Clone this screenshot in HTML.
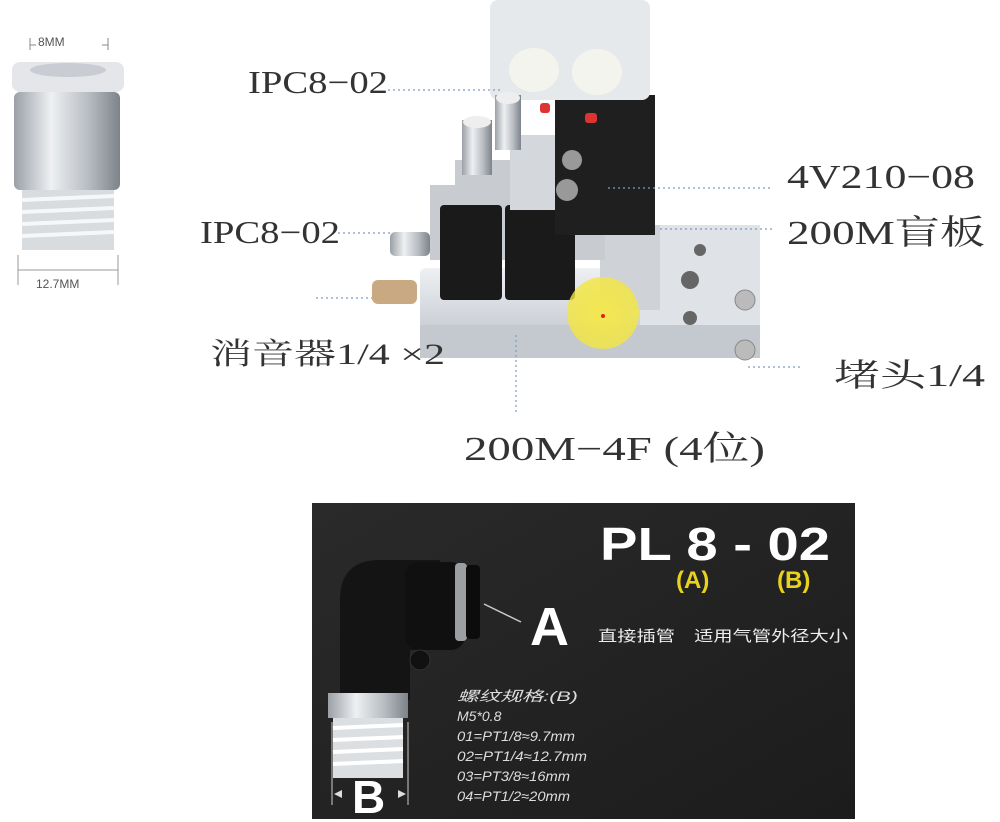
<!DOCTYPE html>
<html><head><meta charset="utf-8"><style>
html,body{margin:0;padding:0;background:#fff;}
svg{display:block}
.s{font-family:"Liberation Serif","Noto Serif CJK SC",serif;fill:#333}
.k{font-family:"Liberation Sans","Noto Sans CJK SC",sans-serif}
</style></head><body>
<svg width="1000" height="822" viewBox="0 0 1000 822" xmlns="http://www.w3.org/2000/svg">
<defs>
<linearGradient id="met" x1="0" x2="1"><stop offset="0" stop-color="#9aa0a6"/><stop offset=".35" stop-color="#eef0f2"/><stop offset=".7" stop-color="#b8bdc2"/><stop offset="1" stop-color="#7d838a"/></linearGradient>
<linearGradient id="alu" x1="0" y1="0" x2="0" y2="1"><stop offset="0" stop-color="#eef0f3"/><stop offset="1" stop-color="#b9bfc6"/></linearGradient>
<linearGradient id="bg" x1="0" y1="0" x2="1" y2="1"><stop offset="0" stop-color="#2a2a2a"/><stop offset="1" stop-color="#1c1c1c"/></linearGradient>
<radialGradient id="yl"><stop offset="0" stop-color="#f5e84a" stop-opacity=".95"/><stop offset="1" stop-color="#f3e640" stop-opacity=".8"/></radialGradient>
</defs>

<!-- top-left fitting -->
<text x="38" y="46" class="k" font-size="12" fill="#555">8MM</text>
<line x1="30" y1="38" x2="30" y2="50" stroke="#888"/><line x1="108" y1="38" x2="108" y2="50" stroke="#888"/>
<line x1="30" y1="45" x2="36" y2="45" stroke="#888"/><line x1="102" y1="45" x2="108" y2="45" stroke="#888"/>
<rect x="12" y="62" width="112" height="30" rx="8" fill="#e4e6ea"/>
<ellipse cx="68" cy="70" rx="38" ry="7" fill="#c9ccd2"/>
<rect x="14" y="92" width="106" height="98" rx="6" fill="url(#met)"/>
<rect x="22" y="190" width="92" height="60" fill="#d8dcdf"/>
<g stroke="#f6f7f8" stroke-width="4"><line x1="22" y1="200" x2="114" y2="196"/><line x1="22" y1="212" x2="114" y2="208"/><line x1="22" y1="224" x2="114" y2="220"/><line x1="22" y1="236" x2="114" y2="232"/></g>
<line x1="18" y1="255" x2="18" y2="285" stroke="#999"/><line x1="118" y1="255" x2="118" y2="285" stroke="#999"/>
<line x1="18" y1="270" x2="118" y2="270" stroke="#999"/>
<text x="36" y="288" class="k" font-size="12" fill="#555">12.7MM</text>

<!-- valve manifold -->
<rect x="420" y="268" width="340" height="90" rx="6" fill="url(#alu)"/>
<rect x="420" y="325" width="340" height="33" fill="#c4c9cf"/>
<rect x="640" y="225" width="120" height="100" fill="#dfe2e6"/>
<circle cx="700" cy="250" r="6" fill="#666"/><circle cx="690" cy="280" r="9" fill="#666"/><circle cx="690" cy="318" r="7" fill="#666"/>
<rect x="600" y="225" width="60" height="85" fill="#cfd3d8"/>
<circle cx="745" cy="300" r="10" fill="#bbb" stroke="#888"/><circle cx="745" cy="350" r="10" fill="#bbb" stroke="#888"/>
<rect x="430" y="185" width="175" height="75" fill="#c8ccd1"/>
<rect x="440" y="205" width="62" height="95" rx="4" fill="#1a1a1a"/>
<rect x="505" y="205" width="70" height="95" rx="4" fill="#1a1a1a"/>
<rect x="510" y="135" width="100" height="75" fill="#d4d8dc"/>
<rect x="555" y="95" width="100" height="140" fill="#1f1f1f"/>
<rect x="455" y="160" width="55" height="40" fill="#c8cbd0"/>
<circle cx="572" cy="160" r="10" fill="#999"/><circle cx="567" cy="190" r="11" fill="#999"/>
<rect x="490" y="0" width="160" height="100" rx="8" fill="#e6e9ec"/>
<ellipse cx="534" cy="70" rx="25" ry="22" fill="#f4f4ef"/><ellipse cx="597" cy="72" rx="25" ry="23" fill="#f4f4ef"/>
<rect x="540" y="103" width="10" height="10" rx="3" fill="#d33"/><rect x="585" y="113" width="12" height="10" rx="3" fill="#d33"/>
<rect x="462" y="120" width="30" height="55" fill="url(#met)"/><ellipse cx="477" cy="122" rx="14" ry="6" fill="#eee"/>
<rect x="495" y="95" width="26" height="55" fill="url(#met)"/><ellipse cx="508" cy="98" rx="12" ry="6" fill="#eee"/>
<rect x="390" y="232" width="40" height="24" rx="5" fill="url(#met)"/>
<rect x="372" y="280" width="45" height="24" rx="6" fill="#c8a982"/>
<circle cx="603" cy="313" r="36" fill="url(#yl)"/><circle cx="603" cy="316" r="2" fill="#d22"/>

<!-- dotted leaders -->
<g stroke="#7f9bc0" stroke-width="1.2" stroke-dasharray="2 3" fill="none">
<line x1="388" y1="90" x2="502" y2="90"/>
<line x1="338" y1="233" x2="390" y2="233"/>
<line x1="316" y1="298" x2="372" y2="298"/>
<line x1="608" y1="188" x2="772" y2="188"/>
<line x1="660" y1="229" x2="772" y2="229"/>
<line x1="748" y1="367" x2="802" y2="367"/>
<line x1="516" y1="335" x2="516" y2="415"/>
</g>

<g lengthAdjust="spacingAndGlyphs">
<text x="248" y="93" class="s" font-size="32" textLength="140" lengthAdjust="spacingAndGlyphs">IPC8−02</text>
<text x="200" y="243" class="s" font-size="32" textLength="140" lengthAdjust="spacingAndGlyphs">IPC8−02</text>
<text x="210" y="364" class="s" font-size="30" textLength="235" lengthAdjust="spacingAndGlyphs">消音器1/4 ×2</text>
<text x="787" y="188" class="s" font-size="34" textLength="188" lengthAdjust="spacingAndGlyphs">4V210−08</text>
<text x="787" y="244" class="s" font-size="34" textLength="198" lengthAdjust="spacingAndGlyphs">200M盲板</text>
<text x="834" y="386" class="s" font-size="32" textLength="151" lengthAdjust="spacingAndGlyphs">堵头1/4</text>
<text x="464" y="460" class="s" font-size="34" textLength="301" lengthAdjust="spacingAndGlyphs">200M−4F (4位)</text>
</g>

<!-- dark panel -->
<rect x="312" y="503" width="543" height="316" fill="url(#bg)"/>
<path d="M340 700 L340 600 Q340 560 380 560 L440 560 L440 650 L410 650 L410 700 Z" fill="#141414"/>
<rect x="405" y="562" width="60" height="88" rx="14" fill="#101010"/>
<rect x="455" y="563" width="12" height="78" rx="4" fill="#9c9fa2"/>
<rect x="466" y="565" width="14" height="74" rx="4" fill="#0c0c0c"/>
<circle cx="420" cy="660" r="10" fill="#111" stroke="#333"/>
<rect x="328" y="693" width="80" height="25" fill="url(#met)"/>
<rect x="333" y="718" width="70" height="60" fill="#dcdfe2"/>
<g stroke="#fff" stroke-width="4"><line x1="333" y1="728" x2="403" y2="725"/><line x1="333" y1="740" x2="403" y2="737"/><line x1="333" y1="752" x2="403" y2="749"/><line x1="333" y1="764" x2="403" y2="761"/></g>
<line x1="332" y1="722" x2="332" y2="805" stroke="#ccc"/><line x1="408" y1="722" x2="408" y2="805" stroke="#ccc"/>
<text x="352" y="813" class="k" font-size="46" font-weight="bold" fill="#fff">B</text>
<path d="M334 794 l8 -4 v8 z M406 794 l-8 -4 v8 z" fill="#ddd"/>
<line x1="484" y1="604" x2="521" y2="622" stroke="#ccc" stroke-width="1.5"/>

<text x="600" y="560" class="k" font-size="46" font-weight="bold" fill="#fff" textLength="230" lengthAdjust="spacingAndGlyphs">PL 8 - 02</text>
<text x="676" y="588" class="k" font-size="24" font-weight="bold" fill="#e8d21c">(A)</text>
<text x="777" y="588" class="k" font-size="24" font-weight="bold" fill="#e8d21c">(B)</text>
<text x="530" y="645" class="k" font-size="54" font-weight="bold" fill="#fff">A</text>
<text x="598" y="641" class="k" font-size="15" fill="#eee" textLength="250" lengthAdjust="spacingAndGlyphs">直接插管　适用气管外径大小</text>
<g class="k" font-size="14" fill="#ddd" font-style="italic">
<text x="457" y="701" textLength="121" lengthAdjust="spacingAndGlyphs">螺纹规格:(B)</text>
<text x="457" y="721">M5*0.8</text>
<text x="457" y="741" textLength="118" lengthAdjust="spacingAndGlyphs">01=PT1/8≈9.7mm</text>
<text x="457" y="761" textLength="130" lengthAdjust="spacingAndGlyphs">02=PT1/4≈12.7mm</text>
<text x="457" y="781" textLength="113" lengthAdjust="spacingAndGlyphs">03=PT3/8≈16mm</text>
<text x="457" y="801" textLength="113" lengthAdjust="spacingAndGlyphs">04=PT1/2≈20mm</text>
</g>
</svg>
</body></html>
